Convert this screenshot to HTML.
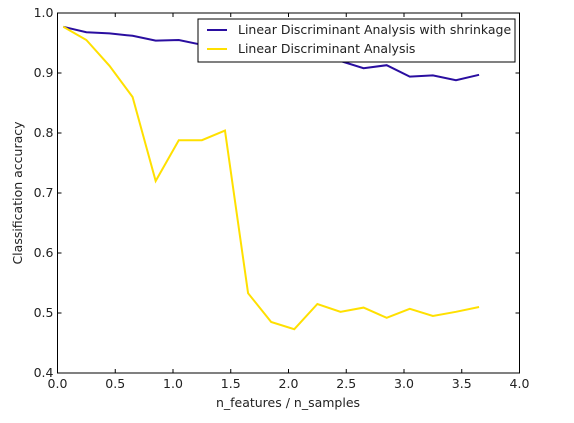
<!DOCTYPE html>
<html><head><meta charset="utf-8"><style>
body{margin:0;background:#fff;}
svg text{font-family:"DejaVu Sans","Liberation Sans",sans-serif;font-size:12.5px;fill:#222;}
</style></head><body>
<svg id="chart" width="574" height="418" xmlns="http://www.w3.org/2000/svg">
<rect width="574" height="418" fill="#fff"/>
<g id="ticks"></g>
<g id="lines"></g>
<rect x="57.5" y="13" width="462" height="360" fill="none" stroke="#000" stroke-width="1"/>
<text x="288" y="407" text-anchor="middle">n_features / n_samples</text>
<text transform="translate(22,193) rotate(-90)" text-anchor="middle">Classification accuracy</text>
<g>
<rect x="198" y="19" width="317" height="43" fill="#fff" stroke="#000" stroke-width="1"/>
<line x1="207" y1="30" x2="227" y2="30" stroke="#2a0ea0" stroke-width="2"/>
<text x="238" y="34">Linear Discriminant Analysis with shrinkage</text>
<line x1="207" y1="49" x2="227" y2="49" stroke="#ffe000" stroke-width="2"/>
<text x="238" y="53">Linear Discriminant Analysis</text>
</g>
</svg>
<script>
const xValues=[0.05,0.25,0.45,0.65,0.85,1.05,1.25,1.45,1.65,1.85,2.05,2.25,2.45,2.65,2.85,3.05,3.25,3.45,3.65];
const shrinkageAcc=[0.977,0.968,0.966,0.962,0.954,0.955,0.947,0.94,0.937,0.933,0.93,0.926,0.92,0.908,0.913,0.894,0.896,0.888,0.897];
const ldaAcc=[0.977,0.955,0.912,0.860,0.720,0.788,0.788,0.804,0.533,0.485,0.473,0.515,0.502,0.509,0.492,0.507,0.495,0.502,0.510];
const xTicks=[0,0.5,1,1.5,2,2.5,3,3.5,4];
const xTickLabels=["0.0","0.5","1.0","1.5","2.0","2.5","3.0","3.5","4.0"];
const yTicks=[0.4,0.5,0.6,0.7,0.8,0.9,1.0];
const yTickLabels=["0.4","0.5","0.6","0.7","0.8","0.9","1.0"];
const X0=57.5,X1=519.5,Y0=373,Y1=13;
const xs=v=>X0+(v-0)/(4-0)*(X1-X0);
const ys=v=>Y0-(v-0.4)/(1.0-0.4)*(Y0-Y1);
const NS="http://www.w3.org/2000/svg";
const tg=document.getElementById('ticks');
xTicks.forEach((t,i)=>{
  for(const [a,b] of [[Y0,Y0-4],[Y1,Y1+4]]){
    const l=document.createElementNS(NS,'line');
    
    
    l.setAttribute('x1',xs(t));l.setAttribute('x2',xs(t));l.setAttribute('y1',a);l.setAttribute('y2',b);l.setAttribute('stroke','#000');
    tg.appendChild(l);
  }
  const tx=document.createElementNS(NS,'text');
  
  
  tx.setAttribute('x',xs(t));tx.setAttribute('y',Y0+15);tx.setAttribute('text-anchor','middle');
  tx.textContent=xTickLabels[i];tg.appendChild(tx);
});
yTicks.forEach((t,i)=>{
  for(const [a,b] of [[X0,X0+4],[X1,X1-4]]){
    const l=document.createElementNS(NS,'line');
    
    
    l.setAttribute('y1',ys(t));l.setAttribute('y2',ys(t));l.setAttribute('x1',a);l.setAttribute('x2',b);l.setAttribute('stroke','#000');
    tg.appendChild(l);
  }
  const tx=document.createElementNS(NS,'text');
  
  
  tx.setAttribute('x',X0-4);tx.setAttribute('y',ys(t)+4);tx.setAttribute('text-anchor','end');
  tx.textContent=yTickLabels[i];tg.appendChild(tx);
});
const lg=document.getElementById('lines');
function addLine(vals,color,name){
  const p=document.createElementNS(NS,'polyline');
  
  
  p.setAttribute('points',vals.map((v,i)=>xs(xValues[i])+','+ys(v)).join(' '));
  p.setAttribute('fill','none');p.setAttribute('stroke',color);p.setAttribute('stroke-width','2');
  lg.appendChild(p);
}
addLine(shrinkageAcc,'#2a0ea0','shrinkage-line');
addLine(ldaAcc,'#ffe000','lda-line');
</script>
</body></html>
